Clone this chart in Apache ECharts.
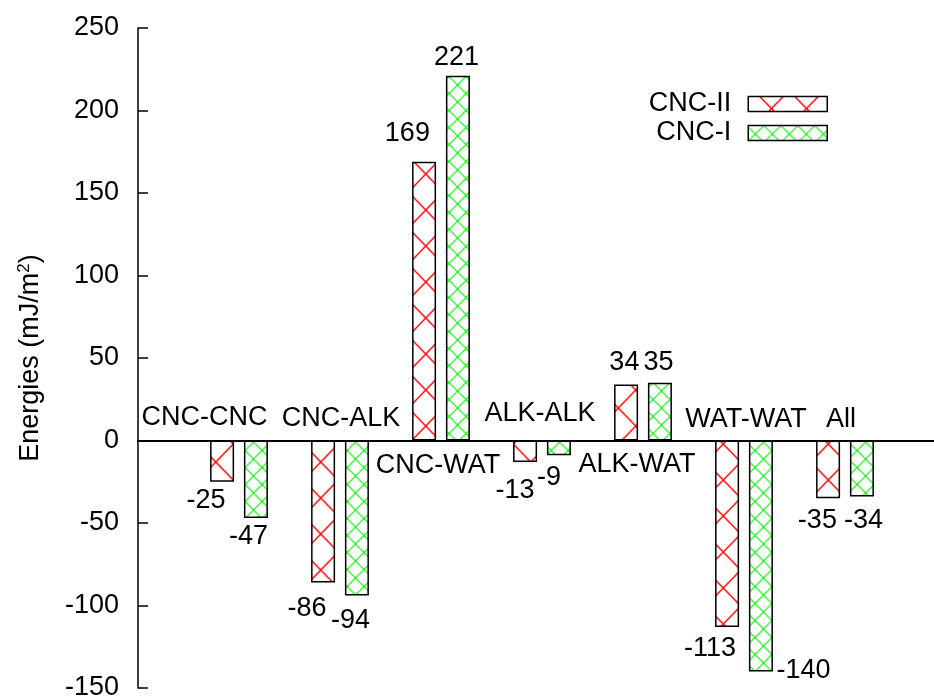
<!DOCTYPE html>
<html>
<head>
<meta charset="utf-8">
<script src="https://cdn.jsdelivr.net/npm/echarts@6/dist/echarts.min.js"></script>
<style>
html,body{margin:0;padding:0;background:#fff;}
#chart{width:934px;height:698px;}
</style>
</head>
<body>
<div id="chart"></div>
<script>
// ---- data ----
const categories = ['CNC-CNC', 'CNC-ALK', 'CNC-WAT', 'ALK-ALK', 'ALK-WAT', 'WAT-WAT', 'All'];
const seriesNames = ['CNC-II', 'CNC-I'];
const cncII = [-25, -86, 169, -13, 34, -113, -35];
const cncI  = [-47, -94, 221, -9, 35, -140, -34];
const yMin = -150, yMax = 250, yStep = 50;
const yAxisTitle = 'Energies (mJ/m{sup|2})';

// ---- layout / style (not data) ----
const cncIILabelOffset = [[-16, 0], [-16, 7.5], [-16.7, -9.5], [-10, 10], [-1.7, -3.5], [-17, 3], [-10.7, 3.7]];
const cncILabelOffset  = [[-7.5, 0], [-6.5, 6.5], [-1.5, 0], [-10, 3.5], [-1.5, -1.5], [42.5, -19.5], [1.5, 5.5]];
// category caption anchors in (slot, value) units
const captionPos = [[0.658, 13.9], [2.01, 13.3], [2.97, -15.2], [3.98, 16.4], [4.94, -14.5], [6.02, 12.7], [6.96, 12.9]];

const FONT = "'Liberation Sans', Arial, Helvetica, sans-serif";
const FS = 27;

function makeTile(w, h, color, lw) {
  const c = document.createElement('canvas');
  c.width = w; c.height = h;
  const ctx = c.getContext('2d');
  ctx.strokeStyle = color;
  ctx.lineWidth = lw;
  ctx.beginPath();
  for (let k = -1; k <= 1; k++) {
    ctx.moveTo(k * w, 0); ctx.lineTo(k * w + w, h);
    ctx.moveTo(k * w + w, 0); ctx.lineTo(k * w, h);
  }
  ctx.stroke();
  return c;
}
const redPattern = { image: makeTile(35, 36, '#ff0000', 1.5), repeat: 'repeat', x: 5.7, y: 30 };
const greenPattern = { image: makeTile(17, 17, '#00ee00', 1.1), repeat: 'repeat', x: 15.5, y: 0 };

const slots = [''].concat(categories, ['']);

function barData(values, offsets) {
  const d = ['-'];
  values.forEach((v, i) => {
    d.push({
      value: v,
      label: { position: v >= 0 ? 'top' : 'bottom', offset: offsets[i] }
    });
  });
  d.push('-');
  return d;
}

const chart = echarts.init(document.getElementById('chart'), null, { renderer: 'canvas' });
chart.setOption({
  animation: false,
  backgroundColor: '#ffffff',
  textStyle: { fontFamily: FONT },
  grid: { left: 138, top: 28, width: 808, height: 660, containLabel: false, outerBoundsMode: 'none' },
  legend: {
    data: seriesNames,
    orient: 'vertical',
    right: 106,
    top: 90.5,
    padding: 0,
    align: 'right',
    icon: 'rect',
    itemWidth: 79,
    itemHeight: 15,
    itemGap: 2,
    selectedMode: false,
    itemStyle: { borderColor: '#000', borderWidth: 1.5 },
    textStyle: { fontSize: FS, color: '#000', fontFamily: FONT, lineHeight: 15, padding: [0, 12, 0, 0] }
  },
  xAxis: [
    {
      type: 'category',
      data: slots,
      boundaryGap: false,
      axisLine: { show: true, onZero: true, lineStyle: { color: '#000', width: 2 } },
      axisTick: { show: false },
      axisLabel: { show: false },
      splitLine: { show: false }
    },
    {
      type: 'value',
      min: 0, max: 8,
      show: false,
      splitLine: { show: false }
    }
  ],
  yAxis: {
    type: 'value',
    min: yMin, max: yMax, interval: yStep,
    name: yAxisTitle,
    nameLocation: 'middle',
    nameGap: 92,
    nameTextStyle: {
      fontSize: FS, color: '#000', fontFamily: FONT, lineHeight: 30,
      rich: { sup: { fontSize: 17, verticalAlign: 'top', lineHeight: 18, color: '#000', fontFamily: FONT } }
    },
    axisLine: { show: true, lineStyle: { color: '#000', width: 1.5 } },
    axisTick: { show: true, inside: true, length: 10, lineStyle: { color: '#000', width: 1.5 } },
    axisLabel: { fontSize: FS, color: '#000', fontFamily: FONT, margin: 19 },
    splitLine: { show: false }
  },
  series: [
    {
      name: seriesNames[0],
      type: 'bar',
      xAxisIndex: 0,
      data: barData(cncII, cncIILabelOffset),
      barWidth: 24,
      barGap: '41%',
      itemStyle: { color: redPattern, borderColor: '#000', borderWidth: 1.5 },
      label: { show: true, fontSize: FS, color: '#000', fontFamily: FONT, distance: 5 },
      emphasis: { disabled: true },
      silent: true
    },
    {
      name: seriesNames[1],
      type: 'bar',
      xAxisIndex: 0,
      data: barData(cncI, cncILabelOffset),
      barWidth: 24,
      barGap: '41%',
      itemStyle: { color: greenPattern, borderColor: '#000', borderWidth: 1.5 },
      label: { show: true, fontSize: FS, color: '#000', fontFamily: FONT, distance: 5 },
      emphasis: { disabled: true },
      silent: true
    },
    {
      name: 'captions',
      type: 'scatter',
      xAxisIndex: 1,
      symbol: 'circle',
      symbolSize: 1,
      itemStyle: { color: 'rgba(0,0,0,0)' },
      data: categories.map((c, i) => ({ name: c, value: captionPos[i] })),
      label: {
        show: true, position: 'inside', formatter: '{b}',
        fontSize: FS, color: '#000', fontFamily: FONT,
        textBorderWidth: 0, textBorderColor: 'transparent', opacity: 1
      },
      emphasis: { disabled: true },
      silent: true
    }
  ]
});
</script>
</body>
</html>
